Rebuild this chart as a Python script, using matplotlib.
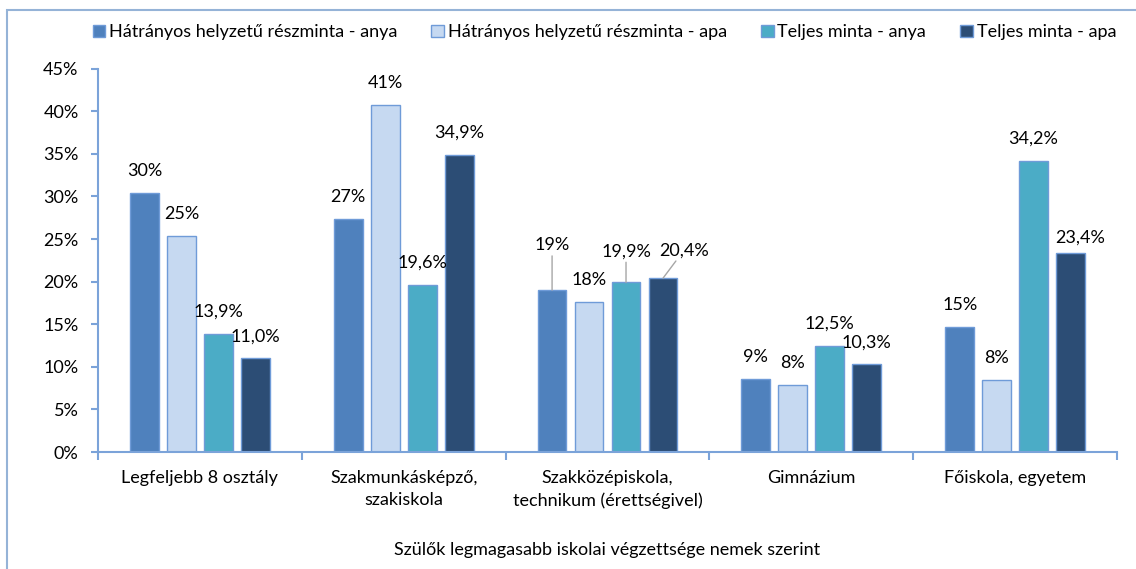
import numpy as np
import matplotlib.pyplot as plt
from matplotlib.patches import Rectangle

plt.rcParams['font.family'] = ['Lato', 'DejaVu Sans']

categories = [
    'Legfeljebb 8 osztály',
    'Szakmunkásképző,\nszakiskola',
    'Szakközépiskola,\ntechnikum (érettségivel)',
    'Gimnázium',
    'Főiskola, egyetem',
]
series_names = [
    'Hátrányos helyzetű részminta - anya',
    'Hátrányos helyzetű részminta - apa',
    'Teljes minta - anya',
    'Teljes minta - apa',
]
hh_anya = [30.4, 27.4, 19.0, 8.6, 14.7]
hh_apa = [25.4, 40.7, 17.6, 7.9, 8.5]
teljes_anya = [13.9, 19.6, 19.9, 12.5, 34.2]
teljes_apa = [11.0, 34.9, 20.4, 10.3, 23.4]
label_decimals = [0, 0, 1, 1]

colors = ['#4F81BD', '#C6D9F1', '#4BACC6', '#2C4D75']
edge = '#6F9BD8'
axis_col = '#7BA3D9'
FS = 13

# label nudges in pixels (series, category) -> (dx, dy above bar top), leader line flag
nudges = {
    (0, 2): (0, 45, True),
    (2, 2): (0, 31, True),
    (3, 2): (21, 28, True),
    (3, 4): (10, 15, False),
}

values = [hh_anya, hh_apa, teljes_anya, teljes_apa]

fig = plt.figure(figsize=(11.36, 5.69), dpi=100)
ax = fig.add_axes([0.0863, 0.2056, 0.897, 0.6738])

x = np.arange(len(categories))
step = 0.1814
width = step * 0.78
handles = []
for i, vals in enumerate(values):
    pos = x + (i - 1.5) * step
    b = ax.bar(pos, vals, width, color=colors[i], edgecolor=edge, linewidth=1,
               label=series_names[i], zorder=2)
    handles.append(b)
    for j, v in enumerate(vals):
        txt = f'{v:.{label_decimals[i]}f}%'.replace('.', ',')
        dx, dy, leader = nudges.get((i, j), (0, 22, False))
        arrow = None
        if leader:
            arrow = dict(arrowstyle='-', color='#A6A6A6', lw=1, shrinkA=0, shrinkB=0)
        ax.annotate(txt, (pos[j], v), xytext=(dx, dy), textcoords='offset pixels',
                    ha='center', va='center', fontsize=FS, color='black',
                    arrowprops=arrow)

ax.set_xlim(-0.5, len(categories) - 0.5)
ax.set_ylim(0, 45)
ax.set_yticks(np.arange(0, 46, 5))
ax.set_yticklabels([f'{t}%' for t in range(0, 46, 5)])
ax.set_xticks(np.arange(-0.5, len(categories), 1))
ax.set_xticklabels([])
ax.set_xticks(x, minor=True)
ax.set_xticklabels(categories, minor=True, fontsize=FS, linespacing=1.45)
ax.tick_params(axis='x', which='major', length=6, color=axis_col, width=1.5)
ax.tick_params(axis='x', which='minor', length=0, pad=13)
ax.tick_params(axis='y', length=5, color=axis_col, width=1.5, pad=9, labelsize=FS)

for s in ['top', 'right']:
    ax.spines[s].set_visible(False)
for s in ['left', 'bottom']:
    ax.spines[s].set_color(axis_col)
    ax.spines[s].set_linewidth(1.5)

ax.set_xlabel('Szülők legmagasabb iskolai végzettsége nemek szerint', fontsize=FS, labelpad=24)

fig.legend(handles=handles, loc='center', bbox_to_anchor=(0.532, 0.943), ncol=4,
           frameon=False, fontsize=FS, handlelength=0.7, handleheight=0.7,
           handletextpad=0.2, columnspacing=1.9)

fig.patches.append(Rectangle((7 / 1136, -0.05), 1.1, 1 - 9.5 / 569 + 0.05,
                             transform=fig.transFigure, fill=False,
                             edgecolor='#95B3D7', linewidth=1.5))

fig.savefig('out.png', dpi=100)
